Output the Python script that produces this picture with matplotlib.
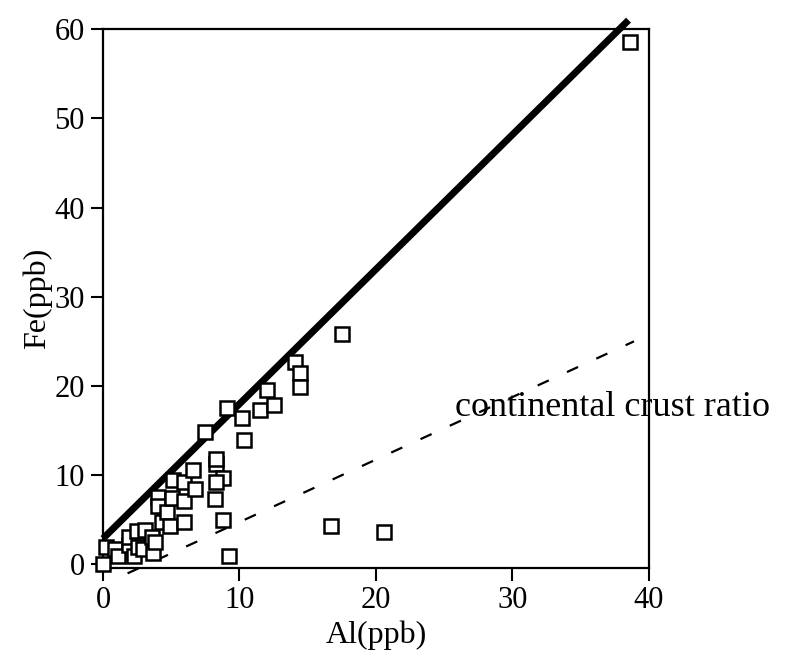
import matplotlib
matplotlib.use('Agg')
import matplotlib.pyplot as plt
import numpy as np

plt.rcParams['font.family'] = ['Liberation Serif', 'DejaVu Serif']

# Al vs Fe samples (ppb)
al = [0.0, 0.2, 0.9, 1.1, 1.9, 1.9, 2.3, 2.5, 2.6, 2.9, 3.1, 3.6, 3.7, 3.8,
      4.0, 4.0, 4.35, 4.7, 4.9, 5.05, 5.1, 5.9, 5.9, 5.9, 6.6, 6.75, 7.5,
      8.3, 8.3, 8.8, 8.3, 8.2, 8.8, 9.2, 9.1, 10.2, 10.3, 11.5, 12.0, 12.5,
      14.1, 14.45, 14.45, 16.7, 17.5, 20.6, 38.6]
fe = [0.0, 2.0, 1.7, 0.9, 2.2, 3.1, 0.9, 3.7, 1.9, 1.7, 3.9, 3.1, 1.3, 2.5,
      7.6, 6.5, 4.7, 5.9, 4.3, 7.5, 9.5, 9.2, 7.1, 4.8, 10.6, 8.4, 14.8,
      11.2, 11.8, 9.7, 9.2, 7.3, 5.0, 1.0, 17.5, 16.4, 14.0, 17.3, 19.6, 17.9,
      22.7, 21.5, 19.9, 4.3, 25.8, 3.6, 58.6]

# fitted line and continental crust ratio line
fit_x = [0.0, 38.5]
fit_y = [2.9, 61.0]
crust_x = [1.8, 38.9]
crust_y = [-1.0, 25.0]

fig, ax = plt.subplots(figsize=(7.88, 6.61), dpi=100)
fig.subplots_adjust(left=0.1307, right=0.8236, top=0.956, bottom=0.1407)

ax.plot(fit_x, fit_y, color='black', linewidth=5, solid_capstyle='butt',
        clip_on=False, zorder=3)
ax.plot(crust_x, crust_y, color='black', linewidth=1.6,
        linestyle=(0, (5.5, 9)), clip_on=False, zorder=2)
ax.plot(al, fe, linestyle='none', marker='s', markersize=10,
        markerfacecolor='white', markeredgecolor='black', markeredgewidth=1.8,
        clip_on=False, zorder=4)

ax.text(25.8, 16.6, 'continental crust ratio', fontsize=26, va='baseline',
        ha='left', clip_on=False)

ax.set_xlim(0, 40)
ax.set_ylim(-0.4, 60)
ax.set_xticks([0, 10, 20, 30, 40])
ax.set_yticks([0, 10, 20, 30, 40, 50, 60])
ax.tick_params(direction='out', length=9, width=1.5, labelsize=22, pad=4)
for s in ax.spines.values():
    s.set_linewidth(1.6)

ax.set_xlabel('Al(ppb)', fontsize=23, labelpad=4)
ax.set_ylabel('Fe(ppb)', fontsize=23, labelpad=2)

plt.savefig('out.png', dpi=100)
